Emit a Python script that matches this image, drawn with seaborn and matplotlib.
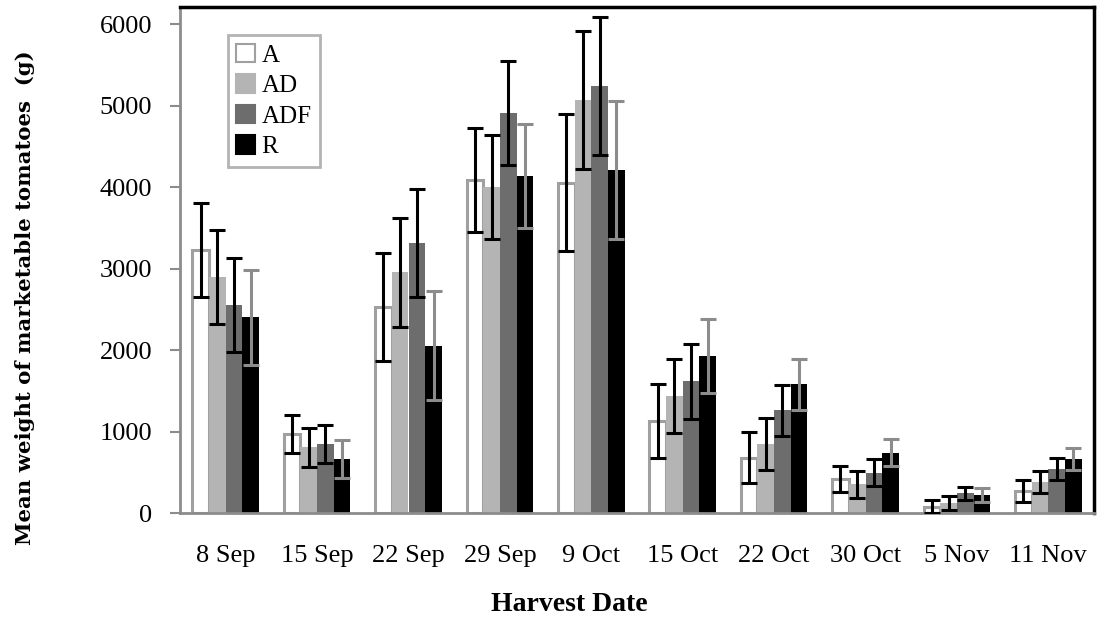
import matplotlib
matplotlib.use("Agg")
import matplotlib.pyplot as plt
import seaborn as sns
import pandas as pd
import numpy as np
from matplotlib.patches import Patch

dates = ["8 Sep", "15 Sep", "22 Sep", "29 Sep", "9 Oct", "15 Oct", "22 Oct", "30 Oct", "5 Nov", "11 Nov"]
treatments = ["A", "AD", "ADF", "R"]

mean_A   = [3230, 965, 2530, 4090, 4055, 1130, 680, 415, 75, 270]
mean_AD  = [2900, 805, 2955, 4000, 5070, 1435, 845, 350, 120, 385]
mean_ADF = [2555, 850, 3310, 4910, 5245, 1615, 1260, 495, 240, 540]
mean_R   = [2400, 660, 2055, 4135, 4210, 1925, 1580, 740, 220, 665]

err_A   = [575, 233, 667, 641, 845, 459, 315, 163, 80, 132]
err_AD  = [575, 235, 667, 635, 847, 459, 317, 168, 86, 135]
err_ADF = [575, 235, 663, 638, 847, 460, 317, 168, 84, 133]
err_R   = [578, 235, 669, 638, 847, 458, 313, 168, 88, 133]

means = {"A": mean_A, "AD": mean_AD, "ADF": mean_ADF, "R": mean_R}
errs = {"A": err_A, "AD": err_AD, "ADF": err_ADF, "R": err_R}

rows = []
for t in treatments:
    for d, v in zip(dates, means[t]):
        rows.append({"date": d, "treatment": t, "weight": v})
df = pd.DataFrame(rows)

sns.set_theme(style="white")
plt.rcParams["font.family"] = ["Liberation Serif", "DejaVu Serif"]
plt.rcParams["text.color"] = "black"
plt.rcParams["axes.labelcolor"] = "black"
plt.rcParams["xtick.color"] = "black"
plt.rcParams["ytick.color"] = "black"

fig = plt.figure(figsize=(10.97, 6.17), dpi=100)
ax = fig.add_axes([180/1097, 1 - 513/617, (1094-180)/1097, (513-7)/617])

fill = {"A": "white", "AD": "#b4b4b4", "ADF": "#6d6d6d", "R": "black"}
sns.barplot(data=df, x="date", y="weight", hue="treatment", order=dates,
            hue_order=treatments, palette=fill, width=0.73, ax=ax,
            errorbar=None, saturation=1, linewidth=0, legend=False)

ecolors = {"A": "black", "AD": "black", "ADF": "black", "R": "#8c8c8c"}
for cont, t in zip(ax.containers, treatments):
    xs = []
    for p in cont.patches:
        xs.append(p.get_x() + p.get_width() / 2)
        if t == "A":
            p.set_edgecolor("#a0a0a0")
            p.set_linewidth(2.2)
    ax.errorbar(xs, means[t], yerr=errs[t], fmt="none", ecolor=ecolors[t],
                elinewidth=2.2, capsize=6, capthick=2.2, zorder=5)

ax.set_ylim(0, 6210)
ax.set_xlim(-0.5, 9.5)
ax.set_yticks([0, 1000, 2000, 3000, 4000, 5000, 6000])
ax.tick_params(axis="y", which="both", left=True, length=7, width=1.5,
               color="#8c8c8c", labelcolor="black", labelsize=19, pad=13)
ax.tick_params(axis="x", bottom=False, labelsize=19, pad=17, labelcolor="black")

for s in ["top", "right"]:
    ax.spines[s].set_color("black")
    ax.spines[s].set_linewidth(2.5)
for s in ["left", "bottom"]:
    ax.spines[s].set_color("#8c8c8c")
    ax.spines[s].set_linewidth(2)

ax.set_xlabel("Harvest Date", fontsize=20, fontweight="bold")
ax.xaxis.set_label_coords((569 - 180) / 914, (513 - 592) / 506)
ax.set_ylabel("Mean weight of marketable tomatoes  (g)", fontsize=15.3,
              fontweight="bold", family=["DejaVu Serif"])
ax.yaxis.set_label_coords((35 - 180) / 914, (513 - 298) / 506)

handles = [Patch(facecolor=fill[t], edgecolor=("#a0a0a0" if t == "A" else fill[t]),
                 linewidth=1.5, label=t) for t in treatments]
leg = ax.legend(handles=handles, loc="upper left", bbox_to_anchor=(0.052, 0.944),
                fontsize=18, frameon=True, fancybox=False, edgecolor="#a0a0a0",
                handlelength=0.75, handleheight=0.75, handletextpad=0.25,
                borderpad=0.35, labelspacing=0.3, borderaxespad=0)
leg.get_frame().set_linewidth(2)

fig.savefig("out.png", dpi=100)
